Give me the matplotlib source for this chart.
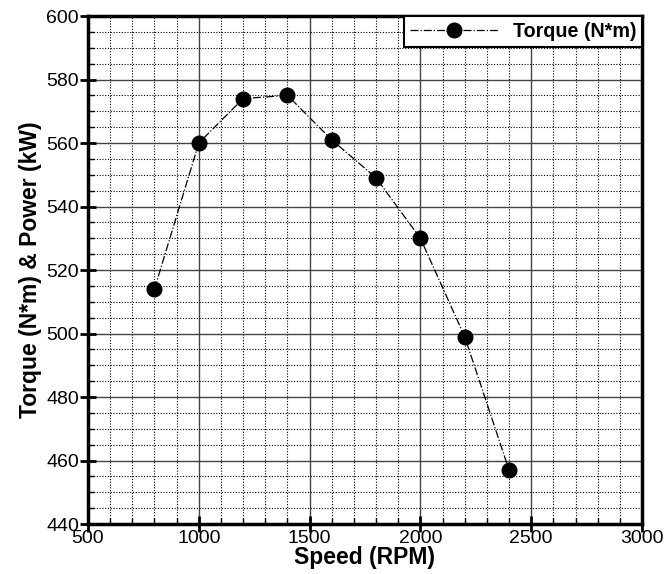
import matplotlib
matplotlib.use("Agg")
import matplotlib.pyplot as plt
from matplotlib.ticker import MultipleLocator

speed = [800, 1000, 1200, 1400, 1600, 1800, 2000, 2200, 2400]
torque = [514, 560, 574, 575, 561, 549, 530, 499, 457]

plt.rcParams['font.family'] = ['Liberation Sans', 'DejaVu Sans']

fig = plt.figure(figsize=(6.65, 5.74), dpi=100)
ax = fig.add_axes([0.1323, 0.0871, 0.8331, 0.885])

ax.plot(speed, torque, linestyle='-.', color='black', linewidth=0.9,
        marker='o', markersize=10.5, markerfacecolor='black', label='Torque (N*m)')

ax.set_xlim(500, 3000)
ax.set_ylim(440, 600)
ax.xaxis.set_major_locator(MultipleLocator(500))
ax.xaxis.set_minor_locator(MultipleLocator(100))
ax.yaxis.set_major_locator(MultipleLocator(20))
ax.yaxis.set_minor_locator(MultipleLocator(5))

ax.grid(which='major', color='#444444', linestyle='-', linewidth=1.0)
ax.grid(which='minor', color='black', linestyle=(0, (1, 1.5)), linewidth=0.8)

for s in ax.spines.values():
    s.set_linewidth(2.5)

ax.tick_params(which='major', direction='inout', length=11, width=2, labelsize=14, pad=1)
ax.tick_params(which='minor', direction='in', length=4, width=1)
ax.tick_params(axis='x', which='major', pad=-1)

ax.set_xlabel('Speed (RPM)', fontsize=16.5, fontweight='bold', labelpad=-1)
ax.set_ylabel('Torque (N*m) & Power (kW)', fontsize=16.5, fontweight='bold', labelpad=3)

leg = ax.legend(loc='upper right', borderaxespad=0, fancybox=False, framealpha=1,
                edgecolor='black', prop={'weight': 'bold', 'size': 14.2},
                handlelength=4.5, handletextpad=0.7, borderpad=0.3)
leg.get_frame().set_linewidth(1.5)

fig.savefig('out.png', dpi=100)
